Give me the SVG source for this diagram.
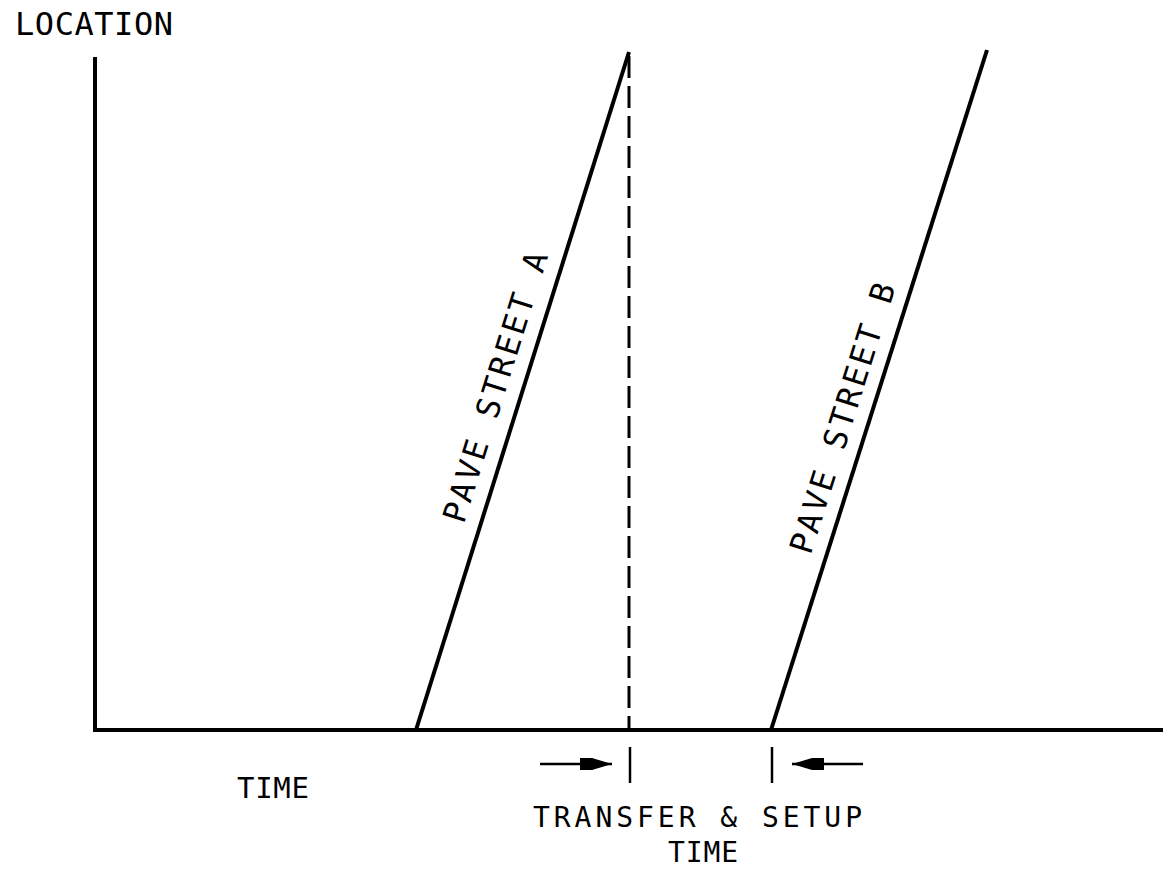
<svg xmlns="http://www.w3.org/2000/svg" width="1163" height="870" viewBox="0 0 1163 870">
<style>
.ln{stroke:#000;stroke-width:4;fill:none}
.thin{stroke:#000;stroke-width:2.5;fill:none}
.dash{stroke:#000;stroke-width:3;fill:none;stroke-dasharray:22 8}
.t{font-family:"DejaVu Sans Mono","Liberation Mono",monospace;font-size:32px;fill:#000}
.s{font-size:28px}
.m{font-size:29px}
</style>
<defs>
<marker id="ah" markerUnits="userSpaceOnUse" markerWidth="34" markerHeight="16" viewBox="0 -8 34 16" refX="32" refY="0" orient="auto">
<path d="M0,-6 L12,-6 L32,0 L12,6 L0,6 z" fill="#000"/>
</marker>
</defs>
<rect width="1163" height="870" fill="#fff"/>
<g id="axes">
<line class="ln" x1="95" y1="57" x2="95" y2="732"/>
<line class="ln" x1="93" y1="730" x2="1163" y2="730"/>
<text class="t" x="15" y="35" textLength="158" lengthAdjust="spacing">LOCATION</text>
<text class="t m" x="237" y="798" textLength="72" lengthAdjust="spacing">TIME</text>
</g>
<g id="streetA">
<line class="ln" x1="416" y1="730" x2="629" y2="52"/>
<text class="t" transform="translate(416,730) rotate(-72.56)" x="210" y="-16" textLength="282" lengthAdjust="spacing">PAVE STREET A</text>
</g>
<g id="streetB">
<line class="ln" x1="771" y1="730" x2="987" y2="50"/>
<text class="t" transform="translate(771,730) rotate(-72.38)" x="178" y="-15" textLength="282" lengthAdjust="spacing">PAVE STREET B</text>
</g>
<g id="connectors">
<line class="dash" x1="629" y1="56" x2="629" y2="730"/>
<line class="thin" x1="630" y1="747" x2="630" y2="783"/>
<line class="thin" x1="772" y1="747" x2="772" y2="783"/>
<line class="thin" x1="540" y1="764" x2="612" y2="764" marker-end="url(#ah)"/>
<line class="thin" x1="863" y1="764" x2="792" y2="764" marker-end="url(#ah)"/>
</g>
<g id="label">
<text class="t s" x="533" y="827" textLength="329" lengthAdjust="spacing">TRANSFER &amp; SETUP</text>
<text class="t s" x="668" y="862" textLength="70" lengthAdjust="spacing">TIME</text>
</g>
</svg>
